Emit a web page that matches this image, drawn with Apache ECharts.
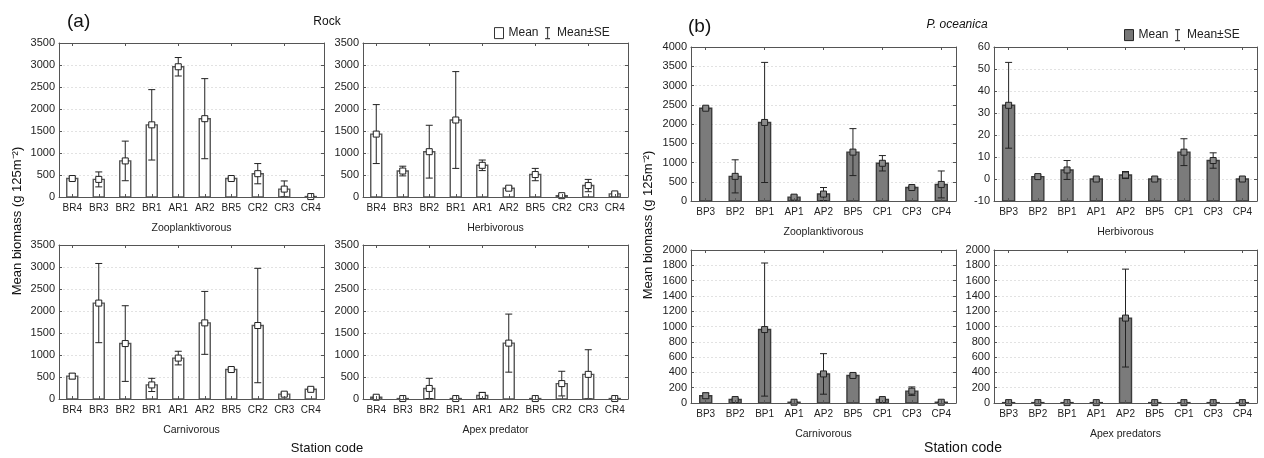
<!DOCTYPE html>
<html><head><meta charset="utf-8">
<script src="https://cdn.jsdelivr.net/npm/echarts@6/dist/echarts.min.js"></script>
<style>html,body{margin:0;padding:0;background:#fff}#c{width:1264px;height:458px}</style>
</head><body><div id="c"></div>
<script>
// ---- Data ----
const rockStations = ['BR4','BR3','BR2','BR1','AR1','AR2','BR5','CR2','CR3','CR4'];
const oceStations = ['BP3','BP2','BP1','AP1','AP2','BP5','CP1','CP3','CP4'];

const rockZooMean  = [420, 400, 820, 1640, 2960, 1780, 420, 530, 180, 10];
const rockZooSE    = [40, 170, 450, 800, 210, 910, 30, 230, 185, 8];
const rockHerbMean = [1430, 590, 1030, 1750, 720, 200, 510, 30, 260, 70];
const rockHerbSE   = [670, 110, 600, 1100, 120, 40, 140, 15, 140, 25];
const rockCarnMean = [520, 2180, 1260, 320, 930, 1730, 670, 1670, 110, 220];
const rockCarnSE   = [60, 900, 860, 150, 155, 715, 40, 1300, 40, 30];
const rockApexMean = [40, 10, 240, 10, 80, 1270, 10, 350, 560, 10];
const rockApexSE   = [25, 0, 230, 0, 70, 660, 0, 280, 560, 0];

const oceZooMean  = [2410, 640, 2040, 100, 180, 1270, 980, 350, 430];
const oceZooSE    = [30, 430, 1560, 50, 170, 610, 200, 25, 350];
const oceHerbMean = [33.5, 1.1, 4.1, 0, 1.8, 0, 12.2, 8.4, 0];
const oceHerbSE   = [19.5, 0.7, 4.3, 0.3, 1.6, 0.3, 6.1, 3.5, 0.3];
const oceCarnMean = [95, 45, 960, 10, 380, 360, 45, 155, 10];
const oceCarnSE   = [35, 15, 870, 5, 265, 20, 15, 55, 3];
const oceApexMean = [5, 5, 5, 5, 1110, 5, 5, 5, 5];
const oceApexSE   = [0, 0, 0, 0, 640, 0, 0, 0, 0];

const rockSubtitles = ['Zooplanktivorous','Herbivorous','Carnivorous','Apex predator'];
const oceSubtitles  = ['Zooplanktivorous','Herbivorous','Carnivorous','Apex predators'];

// ---- Layout / style ----
const FONT = 'Liberation Sans, Arial, sans-serif';
const rockStyle = {fill:'#ffffff', stroke:'#555', marker:'#ffffff', bw:11};
const oceStyle  = {fill:'#7b7b7b', stroke:'#3a3a3a', marker:'#8a8a8a', bw:12};

const panels = [
  {cats:rockStations, mean:rockZooMean,  se:rockZooSE,  name:rockSubtitles[0], min:0, max:3500, int:500, box:[59,43,265,154], st:rockStyle},
  {cats:rockStations, mean:rockHerbMean, se:rockHerbSE, name:rockSubtitles[1], min:0, max:3500, int:500, box:[363,43,265,154], st:rockStyle},
  {cats:rockStations, mean:rockCarnMean, se:rockCarnSE, name:rockSubtitles[2], min:0, max:3500, int:500, box:[59,245,265,154], st:rockStyle},
  {cats:rockStations, mean:rockApexMean, se:rockApexSE, name:rockSubtitles[3], min:0, max:3500, int:500, box:[363,245,265,154], st:rockStyle},
  {cats:oceStations, mean:oceZooMean,  se:oceZooSE,  name:oceSubtitles[0], min:0, max:4000, int:500, box:[691,47,265,154], st:oceStyle},
  {cats:oceStations, mean:oceHerbMean, se:oceHerbSE, name:oceSubtitles[1], min:-10, max:60, int:10, box:[994,47,263,154], st:oceStyle},
  {cats:oceStations, mean:oceCarnMean, se:oceCarnSE, name:oceSubtitles[2], min:0, max:2000, int:200, box:[691,250,265,153], st:oceStyle},
  {cats:oceStations, mean:oceApexMean, se:oceApexSE, name:oceSubtitles[3], min:0, max:2000, int:200, box:[994,250,263,153], st:oceStyle}
];

const frame = {show:true, onZero:false, lineStyle:{color:'#555', width:1}};
const grid = [], xAxis = [], yAxis = [], series = [];
panels.forEach((p, k) => {
  grid.push({left:p.box[0], top:p.box[1], width:p.box[2], height:p.box[3], containLabel:false, show:false});
  // bottom category axis
  xAxis.push({type:'category', gridIndex:k, data:p.cats, position:'bottom', z:5,
    axisLine:frame, axisTick:{show:true, inside:true, length:3, alignWithLabel:true, lineStyle:{color:'#555'}},
    axisLabel:{color:'#222', fontSize:10, fontFamily:FONT, margin:6, interval:0},
    name:p.name, nameLocation:'middle', nameGap:26, nameTextStyle:{color:'#222', fontSize:10.5, fontFamily:FONT},
    splitLine:{show:false}});
  // top mirror axis for frame + ticks
  xAxis.push({type:'category', gridIndex:k, data:p.cats, position:'top', z:5,
    axisLine:frame, axisTick:{show:true, inside:true, length:3, alignWithLabel:true, lineStyle:{color:'#555'}},
    axisLabel:{show:false}, splitLine:{show:false}});
  // left value axis: labels + grid lines (behind the bars)
  yAxis.push({type:'value', gridIndex:k, min:p.min, max:p.max, interval:p.int, position:'left',
    axisLine:frame, axisTick:{show:true, inside:true, length:3, lineStyle:{color:'#555'}},
    axisLabel:{color:'#222', fontSize:11, fontFamily:FONT, margin:4, formatter:v => String(v)},
    splitLine:{show:true, showMinLine:false, showMaxLine:false, lineStyle:{color:'#e2e2e2', type:[2,2], width:1}}});
  // right mirror axis for frame + ticks
  yAxis.push({type:'value', gridIndex:k, min:p.min, max:p.max, interval:p.int, position:'right', z:5,
    axisLine:frame, axisTick:{show:true, inside:true, length:3, lineStyle:{color:'#555'}},
    axisLabel:{show:false}, splitLine:{show:false}});

  const xi = 2*k, yi = 2*k;
  const base = p.min, st = p.st;
  series.push({
    type:'custom', name:'Mean', xAxisIndex:xi, yAxisIndex:yi, z:2,
    data:p.mean.map((v,i)=>[i,v]), encode:{x:0,y:1},
    renderItem:(params, api) => {
      const i = api.value(0), v = api.value(1);
      const p0 = api.coord([i, base]), p1 = api.coord([i, v]);
      return {type:'rect', shape:{x:p0[0]-st.bw/2, y:p1[1], width:st.bw, height:p0[1]-p1[1]},
        style:{fill:st.fill, stroke:st.stroke, lineWidth:1.4}};
    }
  });
  series.push({
    type:'custom', name:'Mean±SE', xAxisIndex:xi, yAxisIndex:yi, z:3,
    data:p.mean.map((v,i)=>[i, v - p.se[i], v + p.se[i], p.se[i]]), encode:{x:0,y:[1,2]},
    renderItem:(params, api) => {
      if (api.value(3) <= 0) return null;
      const i = api.value(0);
      const lo = api.coord([i, Math.max(api.value(1), base)]), hi = api.coord([i, api.value(2)]);
      const cw = 3.5, ls = {stroke:'#222', lineWidth:1};
      return {type:'group', children:[
        {type:'line', shape:{x1:lo[0], y1:lo[1], x2:hi[0], y2:hi[1]}, style:ls},
        {type:'line', shape:{x1:hi[0]-cw, y1:hi[1], x2:hi[0]+cw, y2:hi[1]}, style:ls},
        {type:'line', shape:{x1:lo[0]-cw, y1:lo[1], x2:lo[0]+cw, y2:lo[1]}, style:ls}
      ]};
    }
  });
  series.push({
    type:'scatter', name:'Mean', xAxisIndex:xi, yAxisIndex:yi, z:4,
    data:p.mean.map((v,i)=>[i,v]), symbol:'rect', symbolSize:6,
    itemStyle:{color:st.marker, borderColor:'#222', borderWidth:1, opacity:1},
    emphasis:{disabled:true}, silent:true
  });
});

const ibeam = 'path://M0,0H8M4,0V18M0,18H8';
const option = {
  animation:false,
  backgroundColor:'#fff',
  textStyle:{fontFamily:FONT},
  grid, xAxis, yAxis, series,
  legend:[
    {left:489, top:22, itemWidth:9, itemHeight:11, itemGap:6, selectedMode:false,
     textStyle:{fontSize:12, color:'#222', fontFamily:FONT},
     data:[{name:'Mean', icon:'rect', itemStyle:{color:'#fff', borderColor:'#333', borderWidth:1}},
           {name:'Mean±SE', icon:ibeam, itemStyle:{color:'rgba(0,0,0,0)', borderColor:'#444', borderWidth:1.2}}]},
    {left:1119, top:24, itemWidth:9, itemHeight:11, itemGap:6, selectedMode:false,
     textStyle:{fontSize:12, color:'#222', fontFamily:FONT},
     data:[{name:'Mean', icon:'rect', itemStyle:{color:'#777', borderColor:'#222', borderWidth:1}},
           {name:'Mean±SE', icon:ibeam, itemStyle:{color:'rgba(0,0,0,0)', borderColor:'#444', borderWidth:1.2}}]}
  ],
  graphic:[
    {type:'text', left:67, top:12, style:{text:'(a)', fontSize:19, fill:'#111', fontFamily:FONT}},
    {type:'text', x:327, y:22, style:{text:'Rock', fontSize:12, fill:'#111', fontFamily:FONT, align:'center', verticalAlign:'middle'}},
    {type:'text', left:688, top:17, style:{text:'(b)', fontSize:19, fill:'#111', fontFamily:FONT}},
    {type:'text', x:957, y:25, style:{text:'P. oceanica', fontSize:12, fontStyle:'italic', fill:'#111', fontFamily:FONT, align:'center', verticalAlign:'middle'}},
    {type:'text', x:327, y:448, style:{text:'Station code', fontSize:13, fill:'#111', fontFamily:FONT, align:'center', verticalAlign:'middle'}},
    {type:'text', x:963, y:448, style:{text:'Station code', fontSize:14, fill:'#111', fontFamily:FONT, align:'center', verticalAlign:'middle'}},
    {type:'text', x:17, y:221, rotation:Math.PI/2, style:{text:'Mean biomass (g 125m⁻²)', fontSize:13, fill:'#111', fontFamily:FONT, align:'center', verticalAlign:'middle'}},
    {type:'text', x:648, y:225, rotation:Math.PI/2, style:{text:'Mean biomass (g 125m⁻²)', fontSize:13, fill:'#111', fontFamily:FONT, align:'center', verticalAlign:'middle'}}
  ]
};
const chart = echarts.init(document.getElementById('c'), null, {renderer:'canvas'});
chart.setOption(option);
</script></body></html>
